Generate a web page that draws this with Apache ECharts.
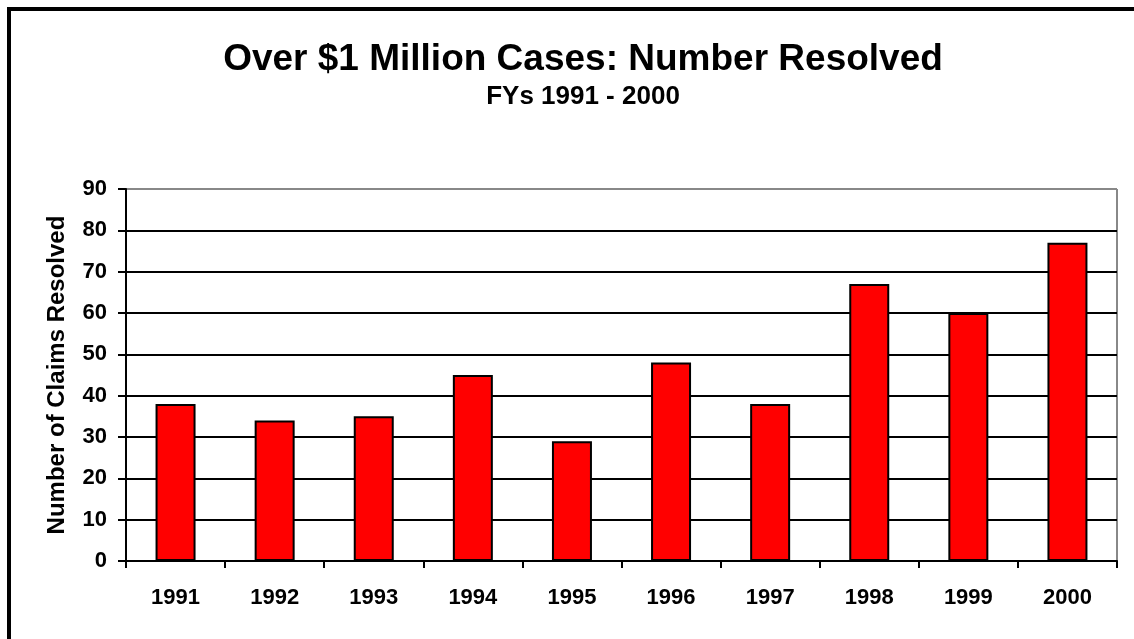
<!DOCTYPE html>
<html>
<head>
<meta charset="utf-8">
<script src="https://cdn.jsdelivr.net/npm/echarts@6/dist/echarts.min.js"></script>
<style>
  html, body { margin: 0; padding: 0; background: #fff; }
  #chart { width: 1134px; height: 639px; }
</style>
</head>
<body>
<div id="chart"></div>
<script>
// fiscal years and number of >$1M claims resolved
const years = ["1991", "1992", "1993", "1994", "1995", "1996", "1997", "1998", "1999", "2000"];
const resolved = [38, 34, 35, 45, 29, 48, 38, 67, 60, 77];
const yTicks = [0, 10, 20, 30, 40, 50, 60, 70, 80, 90];

const font = "Arial, 'Liberation Sans', sans-serif";
// last split line (at 90) is the gray plot-area border
const splitColors = yTicks.map((v, i) => (i === yTicks.length - 1 ? "#888" : "#000"));

const chart = echarts.init(document.getElementById("chart"));
chart.setOption({
  backgroundColor: "#fff",
  animation: false,
  title: {
    text: "Over $1 Million Cases: Number Resolved",
    subtext: "FYs 1991 - 2000",
    left: 578,
    textAlign: "center",
    top: 36,
    itemGap: 6,
    textStyle: { fontFamily: font, fontWeight: "bold", fontSize: 37, color: "#000" },
    subtextStyle: { fontFamily: font, fontWeight: "bold", fontSize: 26, color: "#000" }
  },
  graphic: [
    {
      type: "rect",
      shape: { x: 9, y: 9, width: 1200, height: 700 },
      style: { fill: "none", stroke: "#000", lineWidth: 4 }
    },
    {
      // gray right edge of plot area
      type: "line",
      shape: { x1: 1117, y1: 189, x2: 1117, y2: 561 },
      style: { stroke: "#888", lineWidth: 2 }
    }
  ],
  grid: { left: 126, right: 17, top: 189, bottom: 78 },
  xAxis: {
    type: "category",
    data: years,
    axisLine: { lineStyle: { color: "#000", width: 2 } },
    axisTick: { show: true, length: 7, lineStyle: { color: "#000", width: 2 } },
    axisLabel: { fontFamily: font, fontWeight: "bold", fontSize: 22, color: "#000", margin: 26 }
  },
  yAxis: {
    type: "value",
    min: 0,
    max: 90,
    interval: 10,
    name: "Number of Claims Resolved",
    nameLocation: "middle",
    nameGap: 57,
    nameTextStyle: { fontFamily: font, fontWeight: "bold", fontSize: 24, color: "#000" },
    axisLine: { show: true, lineStyle: { color: "#000", width: 2 } },
    axisTick: { show: true, length: 8, lineStyle: { color: "#000", width: 2 } },
    axisLabel: { fontFamily: font, fontWeight: "bold", fontSize: 22, color: "#000", margin: 19 },
    splitLine: { show: true, lineStyle: { color: splitColors, width: 2 } }
  },
  series: [
    {
      type: "bar",
      data: resolved,
      barWidth: 40,
      itemStyle: { color: "#ff0000", borderColor: "#000", borderWidth: 2 }
    }
  ]
});
</script>
</body>
</html>
